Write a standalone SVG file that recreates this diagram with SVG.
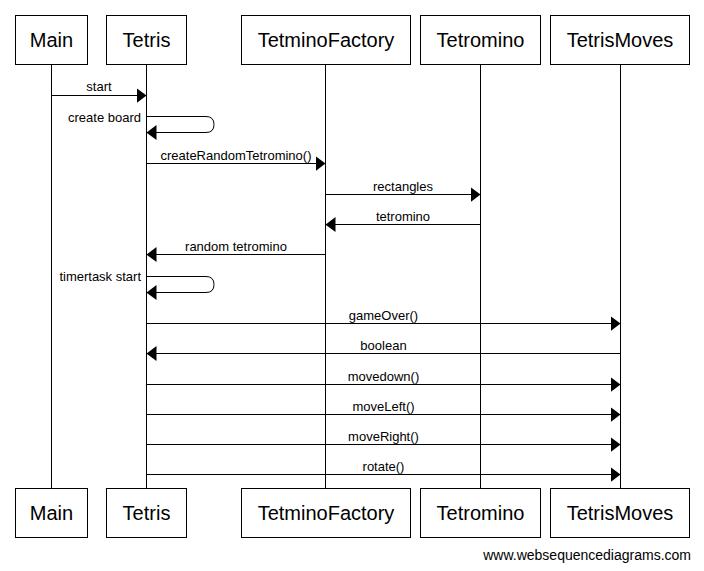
<svg xmlns="http://www.w3.org/2000/svg" width="704" height="571" viewBox="0 0 704 571">
<style>
  .box { fill: #ffffff; stroke: #000000; stroke-width: 1; }
  .name { font-family: "Liberation Sans", Arial, sans-serif; font-size: 20px; fill: #000000; text-anchor: middle; }
  .life { stroke: #000000; stroke-width: 1; fill: none; }
  .msg { stroke: #000000; stroke-width: 1; fill: none; marker-end: url(#arrow); }
  .lbl { font-family: "Liberation Sans", Arial, sans-serif; font-size: 13px; fill: #000000; text-anchor: middle; }
  .self { font-family: "Liberation Sans", Arial, sans-serif; font-size: 13px; fill: #000000; text-anchor: end; }
  .foot { font-family: "Liberation Sans", Arial, sans-serif; font-size: 14px; fill: #000000; text-anchor: end; }
</style>
<defs>
  <marker id="arrow" markerUnits="userSpaceOnUse" markerWidth="10" markerHeight="16" viewBox="0 0 10 16" refX="10" refY="8" orient="auto">
    <path d="M0,0.5 L10,8 L0,15.5 Z" fill="#000000"/>
  </marker>
</defs>
<rect width="704" height="571" fill="#ffffff"/>

<g id="lifelines">
  <line class="life" x1="51.5" y1="64" x2="51.5" y2="488"/>
  <line class="life" x1="146.5" y1="64" x2="146.5" y2="488"/>
  <line class="life" x1="325.5" y1="64" x2="325.5" y2="488"/>
  <line class="life" x1="480.5" y1="64" x2="480.5" y2="488"/>
  <line class="life" x1="620.5" y1="64" x2="620.5" y2="488"/>
</g>

<g id="node-main">
  <rect class="box" x="15.5" y="15.5" width="72" height="49"/>
  <text class="name" x="51.5" y="47">Main</text>
  <rect class="box" x="15.5" y="488.5" width="72" height="49"/>
  <text class="name" x="51.5" y="520">Main</text>
</g>
<g id="node-tetris">
  <rect class="box" x="106.5" y="15.5" width="80" height="49"/>
  <text class="name" x="146.5" y="47">Tetris</text>
  <rect class="box" x="106.5" y="488.5" width="80" height="49"/>
  <text class="name" x="146.5" y="520">Tetris</text>
</g>
<g id="node-tetminofactory">
  <rect class="box" x="241.5" y="15.5" width="169" height="49"/>
  <text class="name" x="326" y="47">TetminoFactory</text>
  <rect class="box" x="241.5" y="488.5" width="169" height="49"/>
  <text class="name" x="326" y="520">TetminoFactory</text>
</g>
<g id="node-tetromino">
  <rect class="box" x="420.5" y="15.5" width="120" height="49"/>
  <text class="name" x="480.5" y="47">Tetromino</text>
  <rect class="box" x="420.5" y="488.5" width="120" height="49"/>
  <text class="name" x="480.5" y="520">Tetromino</text>
</g>
<g id="node-tetrismoves">
  <rect class="box" x="550.5" y="15.5" width="139" height="49"/>
  <text class="name" x="620" y="47">TetrisMoves</text>
  <rect class="box" x="550.5" y="488.5" width="139" height="49"/>
  <text class="name" x="620" y="520">TetrisMoves</text>
</g>

<g id="connectors">
  <line class="msg" x1="51.5" y1="95.5" x2="146.5" y2="95.5"/>
  <text class="lbl" x="99" y="91">start</text>

  <path class="msg" d="M146.5,116.5 H206 Q214,116.5 214,124.5 Q214,132.5 206,132.5 H146.5"/>
  <text class="self" x="141" y="121.5">create board</text>

  <line class="msg" x1="146.5" y1="163.5" x2="325.5" y2="163.5"/>
  <text class="lbl" x="236" y="159.5">createRandomTetromino()</text>

  <line class="msg" x1="325.5" y1="194.5" x2="480.5" y2="194.5"/>
  <text class="lbl" x="403" y="190.5">rectangles</text>

  <line class="msg" x1="480.5" y1="224.5" x2="325.5" y2="224.5"/>
  <text class="lbl" x="403" y="220.5">tetromino</text>

  <line class="msg" x1="325.5" y1="254.5" x2="146.5" y2="254.5"/>
  <text class="lbl" x="236" y="250.5">random tetromino</text>

  <path class="msg" d="M146.5,276.5 H206 Q214,276.5 214,284.5 Q214,292.5 206,292.5 H146.5"/>
  <text class="self" x="141" y="281">timertask start</text>

  <line class="msg" x1="146.5" y1="323.5" x2="620.5" y2="323.5"/>
  <text class="lbl" x="383.5" y="319.5">gameOver()</text>

  <line class="msg" x1="620.5" y1="353.5" x2="146.5" y2="353.5"/>
  <text class="lbl" x="383.5" y="349.5">boolean</text>

  <line class="msg" x1="146.5" y1="384.5" x2="620.5" y2="384.5"/>
  <text class="lbl" x="383.5" y="380.5">movedown()</text>

  <line class="msg" x1="146.5" y1="414.5" x2="620.5" y2="414.5"/>
  <text class="lbl" x="383.5" y="410.5">moveLeft()</text>

  <line class="msg" x1="146.5" y1="444.5" x2="620.5" y2="444.5"/>
  <text class="lbl" x="383.5" y="440.5">moveRight()</text>

  <line class="msg" x1="146.5" y1="474.5" x2="620.5" y2="474.5"/>
  <text class="lbl" x="383.5" y="470.5">rotate()</text>
</g>

<text class="foot" x="691" y="560">www.websequencediagrams.com</text>
</svg>
